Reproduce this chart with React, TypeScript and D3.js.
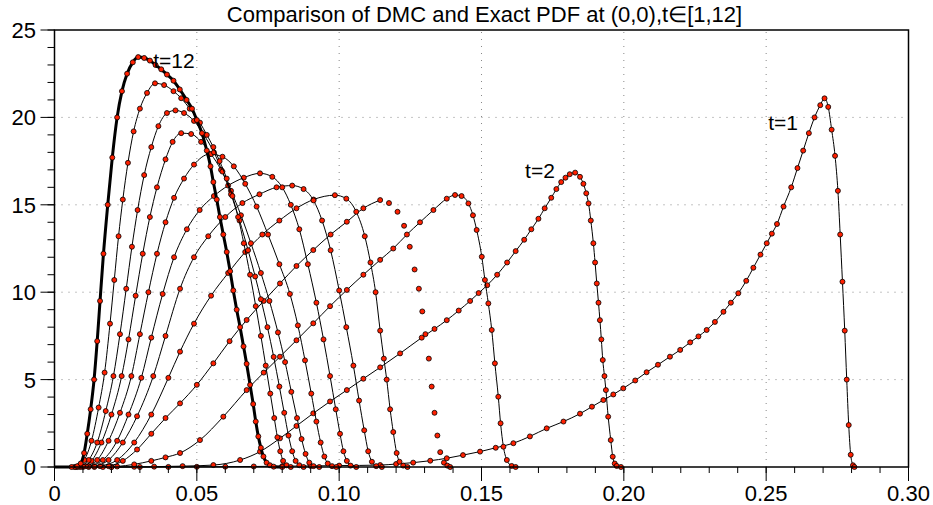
import React from 'react';
import * as d3 from 'd3';

const title = 'Comparison of DMC and Exact PDF at (0,0),t\u2208[1,12]';
const xMajor = [0, 0.05, 0.1, 0.15, 0.2, 0.25, 0.3];
const xLabels = ['0', '0.05', '0.10', '0.15', '0.20', '0.25', '0.30'];
const yMajor = [0, 5, 10, 15, 20, 25];
const yLabels = ['0', '5', '10', '15', '20', '25'];

const t1 = [[0,0],[0.03,0],[0.04,0.005],[0.05,0.01],[0.06,0.02],[0.07,0.03],[0.08,0.045],[0.09,0.06],[0.1,0.08],[0.1144,0.11],[0.12,0.17],[0.126,0.25],[0.132,0.36],[0.1378,0.5],[0.1435,0.68],[0.1495,0.88],[0.155,1.1],[0.1612,1.36],[0.167,1.75],[0.1729,2.21],[0.1788,2.6],[0.1846,3.05],[0.1888,3.45],[0.1928,3.83],[0.1963,4.15],[0.1998,4.5],[0.204,4.95],[0.208,5.42],[0.212,5.85],[0.2162,6.31],[0.2198,6.7],[0.2233,7.13],[0.2262,7.47],[0.2291,7.84],[0.232,8.3],[0.235,8.88],[0.2376,9.4],[0.2402,9.94],[0.243,10.65],[0.2455,11.4],[0.248,12.15],[0.2502,12.8],[0.252,13.35],[0.2538,13.9],[0.2561,14.9],[0.2588,16.0],[0.261,17.1],[0.263,18.1],[0.265,19.1],[0.267,20.0],[0.269,20.7],[0.2705,21.09],[0.2718,20.6],[0.273,19.3],[0.2742,17.8],[0.2752,15.8],[0.276,13.3],[0.2768,10.6],[0.2776,7.8],[0.2783,5.0],[0.279,2.4],[0.2797,0.7],[0.2805,0.1],[0.281,0]];
const t2 = [[0,0],[0.02,0],[0.028,0.01],[0.035,0.02],[0.045,0.05],[0.0558,0.11],[0.0652,0.4],[0.0722,0.88],[0.0792,1.64],[0.085,2.35],[0.0909,3.07],[0.0968,3.75],[0.1027,4.4],[0.1085,5.05],[0.1144,5.7],[0.1214,6.5],[0.129,7.4],[0.1335,7.9],[0.1378,8.4],[0.142,8.95],[0.146,9.5],[0.149,9.95],[0.152,10.4],[0.1555,11.0],[0.159,11.7],[0.162,12.35],[0.165,13.0],[0.1675,13.6],[0.17,14.2],[0.1722,14.8],[0.1745,15.4],[0.1763,15.9],[0.178,16.3],[0.1795,16.55],[0.181,16.75],[0.1829,16.84],[0.1846,16.6],[0.1858,16.2],[0.1868,15.66],[0.1876,15.08],[0.1884,14.1],[0.1893,12.8],[0.1899,11.7],[0.1905,10.5],[0.1911,9.4],[0.1916,8.4],[0.1921,7.3],[0.1926,6.12],[0.1932,5.2],[0.1937,4.4],[0.1945,2.88],[0.1954,1.54],[0.1961,0.59],[0.1968,0.2],[0.1975,0.06],[0.199,0]];
const t3 = [[0,0],[0.02,0],[0.022,0.03],[0.028,0.15],[0.034,0.35],[0.039,0.55],[0.0441,0.8],[0.0511,1.54],[0.0593,2.88],[0.0675,4.4],[0.0735,5.4],[0.0792,6.31],[0.085,7.25],[0.0909,8.22],[0.0968,9.2],[0.1027,10.13],[0.1085,11.0],[0.1144,11.85],[0.119,12.5],[0.1238,13.3],[0.1284,14.0],[0.1331,14.7],[0.1378,15.35],[0.1407,15.56],[0.143,15.5],[0.1454,15.08],[0.147,14.4],[0.1483,13.56],[0.1501,12.03],[0.1512,10.7],[0.1524,9.36],[0.1536,7.84],[0.1547,5.93],[0.1559,4.02],[0.1567,2.5],[0.1577,1.16],[0.1589,0.4],[0.1606,0.06],[0.162,0]];
const t4 = [[0,0],[0.017,0],[0.019,0.05],[0.024,0.35],[0.029,1.0],[0.034,1.9],[0.039,2.8],[0.0441,3.64],[0.05,4.7],[0.0558,5.93],[0.0615,7.2],[0.0675,8.41],[0.0735,9.5],[0.0792,10.5],[0.085,11.5],[0.0909,12.41],[0.097,13.3],[0.1027,14.03],[0.1085,14.8],[0.1144,15.27],[0.1175,15.1],[0.1205,14.6],[0.1228,13.8],[0.1248,12.6],[0.1265,11.3],[0.128,10.2],[0.1292,8.9],[0.1303,7.6],[0.1315,6.2],[0.1325,4.6],[0.1335,3.1],[0.1345,1.8],[0.1355,0.85],[0.1368,0.25],[0.138,0.08],[0.139,0]];
const t5 = [[0,0],[0.014,0],[0.016,0.05],[0.022,0.4],[0.028,1.4],[0.034,3.0],[0.04,5.1],[0.0441,6.6],[0.049,8.2],[0.055,9.8],[0.061,11.1],[0.067,12.3],[0.073,13.3],[0.079,14.1],[0.085,14.8],[0.091,15.3],[0.0985,15.55],[0.1025,15.35],[0.106,14.6],[0.109,13.2],[0.111,11.7],[0.1128,10.0],[0.1144,7.8],[0.1157,6.2],[0.1167,5.0],[0.1179,3.3],[0.119,2.0],[0.1202,0.8],[0.1212,0.3],[0.1225,0.08],[0.124,0]];
const t6 = [[0,0],[0.012,0],[0.014,0.05],[0.019,0.4],[0.024,1.4],[0.029,2.9],[0.0347,5.2],[0.039,7.5],[0.0441,10.2],[0.049,12.0],[0.054,13.2],[0.06,14.3],[0.066,15.1],[0.072,15.6],[0.078,16.0],[0.0835,16.1],[0.0875,15.9],[0.091,15.25],[0.094,14.1],[0.097,12.4],[0.1,10.1],[0.1025,8.0],[0.105,5.8],[0.107,3.8],[0.1088,2.1],[0.1102,0.9],[0.1115,0.3],[0.113,0.05],[0.115,0]];
const t7 = [[0,0],[0.01,0],[0.012,0.05],[0.017,0.4],[0.022,1.5],[0.026,3.0],[0.0305,5.1],[0.034,7.4],[0.038,9.9],[0.042,12.0],[0.0465,13.6],[0.051,14.7],[0.056,15.5],[0.061,16.1],[0.0665,16.55],[0.0722,16.8],[0.0765,16.6],[0.08,16.0],[0.083,15.0],[0.086,13.6],[0.089,11.6],[0.092,9.4],[0.0945,7.3],[0.0968,5.2],[0.0988,3.3],[0.1003,1.9],[0.1015,0.9],[0.1027,0.35],[0.104,0.08],[0.106,0]];
const t8 = [[0,0],[0.009,0],[0.011,0.05],[0.015,0.4],[0.019,1.5],[0.023,3.1],[0.027,5.2],[0.03,7.6],[0.033,10.0],[0.036,12.2],[0.039,14.0],[0.042,15.4],[0.0455,16.5],[0.049,17.3],[0.0545,17.9],[0.059,17.75],[0.063,17.2],[0.067,16.2],[0.071,14.9],[0.075,13.3],[0.079,11.6],[0.0827,9.9],[0.0855,8.1],[0.088,6.1],[0.0902,4.2],[0.092,2.6],[0.0935,1.4],[0.0948,0.6],[0.096,0.2],[0.0975,0.05],[0.099,0]];
const t9 = [[0,0],[0.008,0],[0.01,0.05],[0.013,0.35],[0.0165,1.4],[0.02,3.0],[0.0236,5.2],[0.026,7.3],[0.0285,9.8],[0.031,12.2],[0.0335,14.3],[0.036,16.0],[0.039,17.6],[0.0415,18.6],[0.0445,19.1],[0.048,19.05],[0.0515,18.6],[0.055,17.9],[0.0585,17.0],[0.062,15.8],[0.0655,14.4],[0.069,12.8],[0.0725,11.1],[0.0755,9.5],[0.0785,7.7],[0.081,6.0],[0.0832,4.3],[0.0852,2.8],[0.0868,1.6],[0.0882,0.75],[0.0895,0.25],[0.091,0.05],[0.093,0]];
const t10 = [[0,0],[0.0075,0],[0.009,0.05],[0.012,0.4],[0.015,1.4],[0.018,3.2],[0.0207,5.2],[0.023,7.6],[0.0252,10.2],[0.0272,12.6],[0.0292,14.7],[0.0315,16.7],[0.034,18.3],[0.0365,19.5],[0.0395,20.25],[0.0425,20.4],[0.0455,20.25],[0.049,19.8],[0.0525,19.0],[0.056,18.0],[0.059,16.9],[0.062,15.6],[0.065,14.1],[0.068,12.4],[0.0705,10.9],[0.0725,9.6],[0.0748,8.0],[0.077,6.3],[0.079,4.6],[0.0807,3.1],[0.0822,1.8],[0.0835,0.9],[0.0847,0.35],[0.086,0.1],[0.0875,0]];
const t11 = [[0,0],[0.007,0],[0.0085,0.05],[0.0105,0.4],[0.013,1.5],[0.0155,3.4],[0.0176,5.4],[0.0195,8.2],[0.021,10.7],[0.0225,13.2],[0.024,15.3],[0.0258,17.4],[0.0278,19.2],[0.03,20.5],[0.0325,21.4],[0.0353,21.95],[0.0385,21.85],[0.0418,21.5],[0.0445,21.1],[0.0475,20.5],[0.0511,19.7],[0.0535,19.0],[0.0558,18.3],[0.058,17.5],[0.0605,16.5],[0.0625,15.5],[0.0645,14.3],[0.0665,12.8],[0.0687,11.0],[0.0707,9.2],[0.0725,7.5],[0.0742,5.8],[0.0758,4.2],[0.0772,2.8],[0.0783,1.7],[0.0793,0.9],[0.0803,0.35],[0.0815,0.1],[0.083,0]];
const t12 = [[0,0],[0.006,0],[0.008,0.05],[0.0092,0.2],[0.0104,0.8],[0.0115,1.9],[0.0127,3.3],[0.0139,5.0],[0.015,7.2],[0.016,9.5],[0.0172,12.2],[0.0187,15.0],[0.0203,17.7],[0.022,20.0],[0.0237,21.5],[0.0255,22.5],[0.0275,23.15],[0.0294,23.45],[0.0315,23.4],[0.0335,23.25],[0.0355,23.0],[0.0375,22.75],[0.0395,22.45],[0.0418,22.1],[0.044,21.6],[0.0464,21.0],[0.0483,20.5],[0.05,19.85],[0.0518,19.1],[0.0535,18.1],[0.0548,17.2],[0.0558,16.3],[0.057,15.3],[0.0581,14.3],[0.0593,13.3],[0.0605,12.3],[0.0617,11.2],[0.0628,10.1],[0.064,9.0],[0.0652,8.0],[0.0664,6.9],[0.0675,5.9],[0.0687,4.7],[0.0698,3.6],[0.0707,2.6],[0.0716,1.75],[0.0725,1.1],[0.0734,0.6],[0.0745,0.25],[0.0757,0.1],[0.077,0.02],[0.08,0]];

const seriesData = [t1, t2, t3, t4, t5, t6, t7, t8, t9, t10, t11, t12];
const seriesNames = ['t=1','t=2','t=3','t=4','t=5','t=6','t=7','t=8','t=9','t=10','t=11','t=12'];
// line drawn only up to this x (t=4 falling edge shows markers only)
const lineLimit = [1, 1, 1, 0.1144, 1, 1, 1, 1, 1, 1, 1, 1];
const lineWidths = [1, 1, 1, 1, 1, 1, 1, 1, 1, 1, 1, 3];

const annotations = [
  { text: 't=12', x: 0.0347, y: 22.83 },
  { text: 't=2', x: 0.1653, y: 16.53 },
  { text: 't=1', x: 0.2507, y: 19.28 },
];

const FONT = '"Liberation Sans", Arial, Helvetica, sans-serif';

export default function App() {
  const W = 933, H = 505;
  const x = d3.scaleLinear().domain([0, 0.3]).range([54.5, 908.5]);
  const y = d3.scaleLinear().domain([0, 25]).range([467, 30]);
  const line = d3.line<number[]>().x(d => x(d[0])).y(d => y(d[1])).curve(d3.curveMonotoneX);
  const xMinor = d3.range(0, 0.3001, 0.01);
  const yMinor = d3.range(0, 25.001, 1);

  return (
    <svg width={W} height={H} style={{ position: 'absolute', left: 0, top: 0, background: '#fff' }}>
      <rect x={0} y={0} width={W} height={H} fill="#fff" />
      {xMajor.slice(1, -1).map((v, i) => (
        <line key={'gx' + i} x1={x(v)} x2={x(v)} y1={y(0)} y2={y(25)} stroke="#888" strokeWidth={1} strokeDasharray="1 6" />
      ))}
      {yMajor.slice(1, -1).map((v, i) => (
        <line key={'gy' + i} x1={x(0)} x2={x(0.3)} y1={y(v)} y2={y(v)} stroke="#888" strokeWidth={1} strokeDasharray="1 6" />
      ))}
      {seriesData.map((s, i) => (
        <g key={seriesNames[i]}>
          <path d={line(s.filter(p => p[0] <= lineLimit[i])) || ''} fill="none" stroke="#000" strokeWidth={lineWidths[i]} />
          {s.filter(p => p[0] > 0.005).map((p, j) => (
            <circle key={j} cx={x(p[0])} cy={y(p[1])} r={2.5} fill="#ff2000" stroke="#000" strokeWidth={0.8} />
          ))}
        </g>
      ))}
      <rect x={x(0)} y={y(25)} width={x(0.3) - x(0)} height={y(0) - y(25)} fill="none" stroke="#000" strokeWidth={1.5} />
      {xMinor.map((v, i) => (
        <line key={'xm' + i} x1={x(v)} x2={x(v)} y1={y(0)} y2={y(0) + 6} stroke="#000" strokeWidth={1} />
      ))}
      {xMajor.map((v, i) => (
        <g key={'xM' + i}>
          <line x1={x(v)} x2={x(v)} y1={y(0)} y2={y(0) + 14} stroke="#000" strokeWidth={1} />
          <text x={x(v)} y={501} textAnchor="middle" fontFamily={FONT} fontSize={22} fill="#000">{xLabels[i]}</text>
        </g>
      ))}
      {yMinor.map((v, i) => (
        <line key={'ym' + i} x1={x(0) - 7} x2={x(0)} y1={y(v)} y2={y(v)} stroke="#000" strokeWidth={1} />
      ))}
      {yMajor.map((v, i) => (
        <g key={'yM' + i}>
          <line x1={x(0) - 14} x2={x(0)} y1={y(v)} y2={y(v)} stroke="#000" strokeWidth={1} />
          <text x={36} y={y(v) + 8} textAnchor="end" fontFamily={FONT} fontSize={22} fill="#000">{yLabels[i]}</text>
        </g>
      ))}
      {annotations.map((a, i) => (
        <text key={'a' + i} x={x(a.x)} y={y(a.y)} fontFamily={FONT} fontSize={21} fill="#000">{a.text}</text>
      ))}
      <text x={(x(0) + x(0.3)) / 2 + 3} y={22} textAnchor="middle" fontFamily={FONT} fontSize={22} fill="#000">{title}</text>
    </svg>
  );
}
